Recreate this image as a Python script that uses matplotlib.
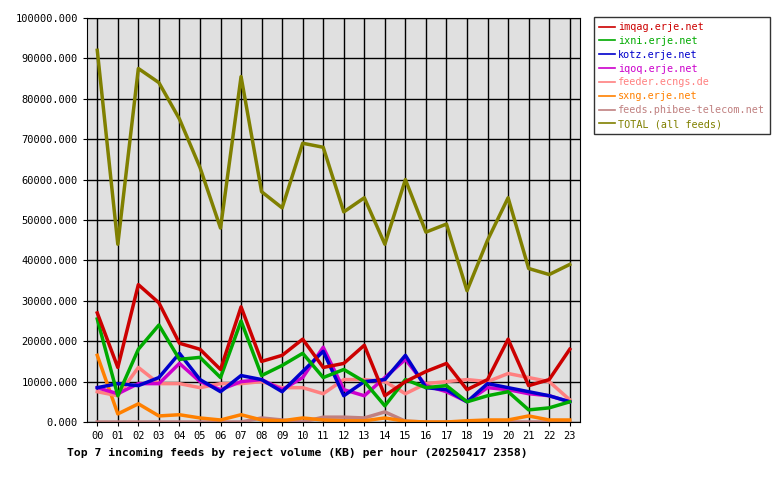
import matplotlib
matplotlib.use("Agg")
import matplotlib.pyplot as plt
from matplotlib.ticker import FuncFormatter

hours = ["%02d" % h for h in range(24)]
imqag = [27000,13500,34000,29500,19500,18000,13000,28500,15000,16500,20500,13500,14500,19000,6500,10000,12500,14500,8000,10500,20500,9000,10500,18000]
ixni = [25500,6500,18000,24000,15500,16000,11000,25000,11500,14000,17000,11000,13000,10000,4000,10500,8500,9000,5000,6500,7500,3000,3500,5000]
kotz = [8500,9500,9000,11000,17000,10500,7500,11500,10500,7500,12500,17500,6500,10000,10500,16500,8500,8000,5000,9500,8500,7500,6500,5000]
iqoq = [8500,7000,9500,9500,14500,10000,8000,10000,10500,8000,11000,18500,8000,6500,11000,15500,9000,7500,5000,8500,8000,7000,6500,5000]
feeder = [7500,6500,13500,9500,9500,8500,9500,9500,10000,8500,8500,7000,10500,10500,10000,7000,9500,10000,10500,10000,12000,11000,10000,5500]
sxng = [16500,2000,4500,1500,1800,1000,500,1800,500,300,1000,500,300,300,1000,200,0,0,300,500,500,1500,500,500]
phibee = [0,0,0,0,0,0,0,0,1000,500,0,1200,1200,1000,2500,200,0,0,0,0,0,0,0,0]
total = [92000,44000,87500,84000,75000,63000,48000,85500,57000,53000,69000,68000,52000,55500,44000,60000,47000,49000,32500,45000,55500,38000,36500,39000]

series = [
    ("imqag.erje.net", imqag, "#cc0000"),
    ("ixni.erje.net", ixni, "#00aa00"),
    ("kotz.erje.net", kotz, "#0000cc"),
    ("iqoq.erje.net", iqoq, "#cc00cc"),
    ("feeder.ecngs.de", feeder, "#ff8080"),
    ("sxng.erje.net", sxng, "#ff8000"),
    ("feeds.phibee-telecom.net", phibee, "#c08080"),
    ("TOTAL (all feeds)", total, "#808000"),
]
order = [6, 5, 4, 3, 2, 1, 0, 7]

plt.rcParams["font.family"] = "DejaVu Sans Mono"
fig = plt.figure(figsize=(7.8, 4.8), dpi=100)
ax = fig.add_axes([87/780, 58/480, 493/780, 404/480])
ax.set_facecolor("#e0e0e0")
x = list(range(24))
lines = {}
for i in order:
    name, vals, col = series[i]
    lines[i], = ax.plot(x, vals, color=col, lw=2.5, label=name)
ax.set_xlim(-0.5, 23.5)
ax.set_ylim(0, 100000)
ax.set_yticks(range(0, 100001, 10000))
ax.yaxis.set_major_formatter(FuncFormatter(lambda v, p: "%d.000" % v))
ax.set_xticks(x)
ax.set_xticklabels(hours)
ax.grid(True, color="black", lw=1)
ax.set_axisbelow(True)
ax.tick_params(labelsize=7.5, length=3)
for s in ax.spines.values():
    s.set_color("black")
fig.text(67/780, 1-452/480, "Top 7 incoming feeds by reject volume (KB) per hour (20250417 2358)",
         fontsize=8.2, fontweight="bold", va="center")
leg = fig.legend([lines[i] for i in range(8)], [s[0] for s in series],
                 loc="upper left", bbox_to_anchor=(594/780, 1-17/480), fontsize=7.3,
                 frameon=True, fancybox=False, edgecolor="black", handlelength=1.6,
                 handletextpad=0.3, labelspacing=0.38, borderpad=0.5, borderaxespad=0)
for t, s in zip(leg.get_texts(), series):
    t.set_color(s[2])
for h in leg.legend_handles:
    h.set_linewidth(1.2)
fig.savefig("out.png", dpi=100)
